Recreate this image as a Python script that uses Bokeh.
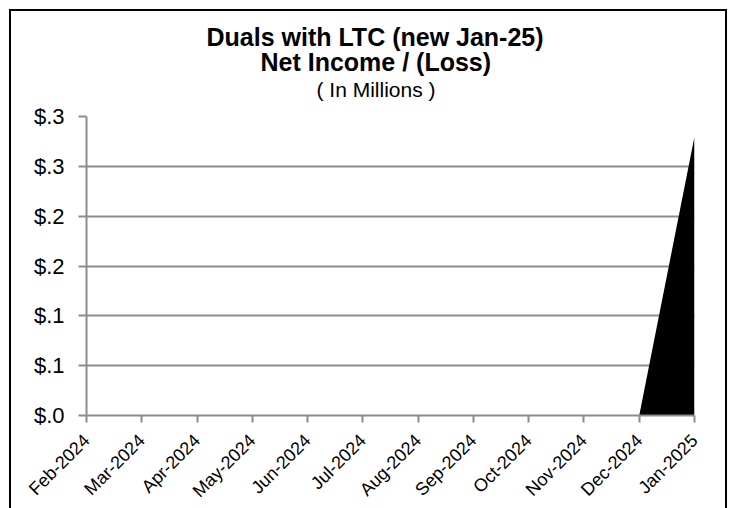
from bokeh.plotting import figure
from bokeh.models import FixedTicker, Title, ColumnDataSource
from bokeh.embed import file_html
from bokeh.resources import INLINE

# Monthly net income / (loss), in millions of dollars
months = ["Feb-2024", "Mar-2024", "Apr-2024", "May-2024", "Jun-2024", "Jul-2024",
          "Aug-2024", "Sep-2024", "Oct-2024", "Nov-2024", "Dec-2024", "Jan-2025"]
net_income = [0.0, 0.0, 0.0, 0.0, 0.0, 0.0, 0.0, 0.0, 0.0, 0.0, 0.0, 0.28]

y_ticks = [0.0, 0.05, 0.10, 0.15, 0.20, 0.25, 0.30]
y_tick_labels = ["$.0", "$.1", "$.1", "$.2", "$.2", "$.3", "$.3"]

title_lines = ["Duals with LTC (new Jan-25)", "Net Income / (Loss)", "( In Millions )"]

FONT = "Liberation Sans"
GREY = "#8c8c8c"

idx = list(range(len(months)))
source = ColumnDataSource(data=dict(x=idx, y=net_income, base=[0.0] * len(idx)))

p = figure(width=718, height=510, output_backend="svg", toolbar_location=None,
           x_range=(0, len(months) - 1), y_range=(0, 0.30),
           min_border_left=75, min_border_right=35, min_border_top=105,
           min_border_bottom=106)
p.styles = {"border": "2px solid black", "margin-left": "9px", "margin-top": "9px"}
p.outline_line_color = None
p.background_fill_color = "white"
p.border_fill_color = "white"

# Heading, stacked upward from the plot area: (text, size, style, standoff, offset)
heading = [(title_lines[2], "21px", "normal", 32, 230),
           (title_lines[1], "25px", "bold", -33, 174),
           (title_lines[0], "25px", "bold", 17, 120)]
for text, size, style, standoff, offset in heading:
    p.add_layout(Title(text=text, align="left", offset=offset, standoff=standoff,
                       text_font=FONT, text_font_size=size, text_font_style=style,
                       text_color="black"), "above")

p.varea(x="x", y1="base", y2="y", source=source, fill_color="black")

# x axis: month labels at 45 degrees
p.xaxis.ticker = FixedTicker(ticks=idx)
p.xaxis.major_label_overrides = {i: m for i, m in zip(idx, months)}
p.xaxis.major_label_orientation = 0.785398
p.xaxis.major_label_text_font = FONT
p.xaxis.major_label_text_font_size = "18px"
p.xaxis.major_label_text_color = "black"
p.xaxis.major_label_standoff = 15
p.xaxis.axis_line_color = GREY
p.xaxis.axis_line_width = 2
p.xaxis.major_tick_line_color = GREY
p.xaxis.major_tick_line_width = 2
p.xaxis.major_tick_out = 7
p.xaxis.major_tick_in = 0
p.xaxis.minor_tick_line_color = None

# y axis: dollar labels
p.yaxis.ticker = FixedTicker(ticks=y_ticks)
p.yaxis.major_label_overrides = {t: l for t, l in zip(y_ticks, y_tick_labels)}
p.yaxis.major_label_text_font = FONT
p.yaxis.major_label_text_font_size = "22px"
p.yaxis.major_label_text_color = "black"
p.yaxis.axis_line_color = GREY
p.yaxis.axis_line_width = 2
p.yaxis.major_tick_line_color = GREY
p.yaxis.major_tick_line_width = 2
p.yaxis.major_tick_out = 8
p.yaxis.major_tick_in = 0
p.yaxis.minor_tick_line_color = None
p.yaxis.major_label_standoff = 14

p.xgrid.grid_line_color = None
p.ygrid.grid_line_color = GREY
p.ygrid.grid_line_width = 2

open("out.html", "w").write(file_html(p, INLINE))
